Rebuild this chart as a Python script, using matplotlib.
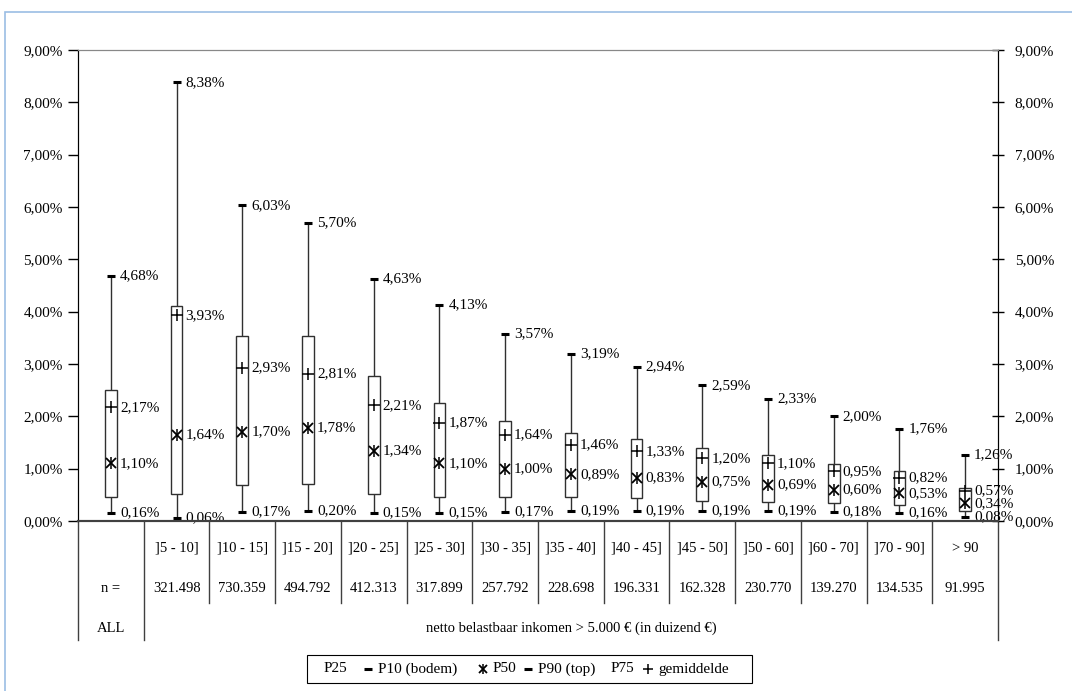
import matplotlib.pyplot as plt
import matplotlib.transforms as mtransforms
from matplotlib.lines import Line2D
from matplotlib.patches import Rectangle
from matplotlib.ticker import FuncFormatter

# categories and counts
categories = ["", "]5 - 10]", "]10 - 15]", "]15 - 20]", "]20 - 25]", "]25 - 30]", "]30 - 35]",
              "]35 - 40]", "]40 - 45]", "]45 - 50]", "]50 - 60]", "]60 - 70]", "]70 - 90]", "> 90"]
counts = ["n =", "321.498", "730.359", "494.792", "412.313", "317.899", "257.792",
          "228.698", "196.331", "162.328", "230.770", "139.270", "134.535", "91.995"]

# percentiles (in %)
p10 = [0.16, 0.06, 0.17, 0.20, 0.15, 0.15, 0.17, 0.19, 0.19, 0.19, 0.19, 0.18, 0.16, 0.08]
p25 = [0.45, 0.52, 0.68, 0.71, 0.52, 0.46, 0.45, 0.45, 0.43, 0.38, 0.37, 0.35, 0.30, 0.19]
p50 = [1.10, 1.64, 1.70, 1.78, 1.34, 1.10, 1.00, 0.89, 0.83, 0.75, 0.69, 0.60, 0.53, 0.34]
p75 = [2.50, 4.10, 3.54, 3.54, 2.78, 2.25, 1.92, 1.69, 1.56, 1.40, 1.26, 1.08, 0.96, 0.64]
p90 = [4.68, 8.38, 6.03, 5.70, 4.63, 4.13, 3.57, 3.19, 2.94, 2.59, 2.33, 2.00, 1.76, 1.26]
mean = [2.17, 3.93, 2.93, 2.81, 2.21, 1.87, 1.64, 1.46, 1.33, 1.20, 1.10, 0.95, 0.82, 0.57]

plt.rcParams['font.family'] = ['Liberation Serif', 'DejaVu Serif']

W, H = 1072, 691
fig = plt.figure(figsize=(W / 100, H / 100), dpi=100)
ax = fig.add_axes([78 / W, 1 - 521 / H, (998 - 78) / W, (521 - 50) / H])

def fy(px):
    return 1 - px / H

def pct(v):
    return f"{v:.2f}".replace(".", ",") + "%"

def median_marker(ax_, xx, yy, size=7, **kw):
    # excel style median: x with a vertical stroke
    ax_.plot(xx, yy, marker='x', ms=size, mew=1.3, color='black', **kw)
    ax_.plot(xx, yy, marker='|', ms=size + 1, mew=1.1, color='black', **kw)

x = list(range(len(categories)))
bw = 0.09

for i in x:
    ax.plot([i, i], [p10[i], p90[i]], color='#303030', lw=1, zorder=2)
    ax.add_patch(Rectangle((i - bw, p25[i]), 2 * bw, p75[i] - p25[i],
                           facecolor='white', edgecolor='#303030', lw=1, zorder=3))
    ax.plot(i, p10[i], marker='_', ms=6, mew=2.2, color='black', zorder=4)
    ax.plot(i, p90[i], marker='_', ms=6, mew=2.2, color='black', zorder=4)
    ax.plot(i, mean[i], marker='+', ms=8, mew=1.1, color='black', zorder=4)
    median_marker(ax, i, p50[i], zorder=4)
    for v in (p10[i], p90[i], mean[i], p50[i]):
        ax.annotate(pct(v), (i, v), xytext=(6.5, 0), textcoords='offset points',
                    ha='left', va='center', fontsize=11, zorder=5)

ax.set_xlim(-0.5, 13.5)
ax.set_ylim(0, 9)
ax.set_yticks(range(10))
fmt = FuncFormatter(lambda v, p: pct(v))
ax.yaxis.set_major_formatter(fmt)
ax.tick_params(axis='y', direction='out', length=7, width=1, labelsize=11, pad=4)
ax.set_xticks([])

ax2 = ax.twinx()
ax2.set_ylim(0, 9)
ax2.set_yticks(range(10))
ax2.yaxis.set_major_formatter(fmt)
ax2.tick_params(axis='y', direction='inout', length=8, width=1, labelsize=11, pad=8)

for a in (ax, ax2):
    a.spines['left'].set_color('black')
    a.spines['right'].set_color('black')
    a.spines['top'].set_color('#888888')
    a.spines['bottom'].set_color('#404040')
    a.spines['bottom'].set_linewidth(1.5)

# table below the axis
tr = mtransforms.blended_transform_factory(ax.transData, fig.transFigure)
for k in range(len(categories) + 1):
    xs = k - 0.5
    bottom = 640 if k in (0, 1, len(categories)) else 603
    ax.plot([xs, xs], [fy(521), fy(bottom)], transform=tr, color='#404040', lw=1, clip_on=False)

for i in x:
    ax.text(i, fy(548), categories[i], transform=tr, ha='center', va='center', fontsize=10.5)
    ax.text(i, fy(588), counts[i], transform=tr, ha='center', va='center', fontsize=10.5)
ax.text(0, fy(628), "ALL", transform=tr, ha='center', va='center', fontsize=10.5)
ax.text(7, fy(628), "netto belastbaar inkomen > 5.000 € (in duizend €)", transform=tr,
        ha='center', va='center', fontsize=10.5)

# legend
fig.add_artist(Rectangle((307 / W, fy(683)), (752 - 307) / W, (683 - 655) / H,
                         transform=fig.transFigure, facecolor='white', edgecolor='black', lw=0.8))
ly = fy(669)
items = [(324, None, "P25"), (378, '_', "P10 (bodem)"), (493, 'med', "P50"),
         (538, '_', "P90 (top)"), (611, None, "P75"), (658, '+', "gemiddelde")]
for px, mk, label in items:
    if mk is not None:
        mx = (px - 10) / W
        if mk == '_':
            fig.add_artist(Line2D([mx], [ly], marker='_', ms=6, mew=2.2, color='black',
                                  transform=fig.transFigure))
        elif mk == 'med':
            fig.add_artist(Line2D([mx], [ly], marker='x', ms=6, mew=1.3, color='black',
                                  transform=fig.transFigure))
            fig.add_artist(Line2D([mx], [ly], marker='|', ms=7, mew=1.1, color='black',
                                  transform=fig.transFigure))
        else:
            fig.add_artist(Line2D([mx], [ly], marker=mk, ms=7, mew=1.1, color='black',
                                  transform=fig.transFigure))
    fig.text(px / W, ly, label, ha='left', va='center', fontsize=11)

# outer frame
fig.add_artist(Rectangle((5 / W, -0.05), 1.1, fy(12) + 0.05, transform=fig.transFigure,
                         facecolor='none', edgecolor='#9bbde4', lw=1.2))

fig.savefig('out.png', dpi=100)
